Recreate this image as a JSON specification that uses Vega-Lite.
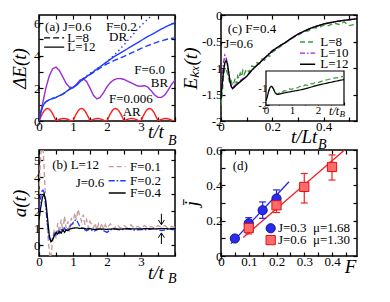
{
"$schema":"https://vega.github.io/schema/vega-lite/v6.json",
"padding":{"left":9,"top":8,"right":5,"bottom":5},
"background":"white",
"config":{
 "font":"Liberation Serif",
 "view":{"stroke":"black","strokeWidth":1.5},
 "axis":{"grid":false,"domain":false,"minExtent":0,"maxExtent":200,"tickSize":-4,"tickColor":"black","tickWidth":1.2,"labelFontSize":13,"labelColor":"black","labelPadding":3,"labelFlush":false,"labelOverlap":false,"labelBound":false,"titleFontSize":19,"titleFontWeight":"normal","titleFontStyle":"italic","titleColor":"black","titlePadding":4},
 "text":{"fontSize":13,"color":"black","baseline":"middle","align":"left"},
 "line":{"strokeWidth":1.4}
},
"bounds":"flush",
"columns":2,
"spacing":{"row":29,"column":46},
"resolve":{"scale":{"color":"independent","strokeDash":"independent","shape":"independent","fill":"independent","stroke":"independent"}},
"concat":[
{
 "width":136,"height":106,
 "layer":[
  {"data":{"name":"aLines"},"mark":{"type":"line","clip":true},
   "encoding":{
    "x":{"field":"t","type":"quantitative","scale":{"domain":[0,4],"nice":false},"axis":{"orient":"bottom","title":null,"values":[0,0.5,1,1.5,2,2.5,3,3.5,4],"labelExpr":"datum.value % 1 === 0 && datum.value < 4 ? toString(datum.value) : ''"}},
    "y":{"field":"v","type":"quantitative","scale":{"domain":[0,6.5],"nice":false,"zero":false},"axis":{"orient":"left","title":"ΔE(t)","values":[0,1,2,3,4,5,6],"labelExpr":"datum.value % 2 === 0 ? toString(datum.value) : ''"}},
    "color":{"field":"s","type":"nominal","scale":{"domain":["AR","BR","DRd","DR8","DR12","k8","k12"],"range":["#ff1a1a","#9a2bd0","#1f3fff","#1f3fff","#1f3fff","#000000","#000000"]},"legend":null},
    "strokeDash":{"field":"s","type":"nominal","scale":{"domain":["AR","BR","DRd","DR8","DR12","k8","k12"],"range":[[1,0],[1,0],[1.5,3],[6,3],[1,0],[6,3],[1,0]]},"legend":null}
   }},
  {"data":{"name":"aText"},"mark":{"type":"text"},
   "encoding":{
    "x":{"field":"t","type":"quantitative","scale":{"domain":[0,4],"nice":false},"axis":{"orient":"top","labels":false,"title":null,"values":[0,0.5,1,1.5,2,2.5,3,3.5,4]}},
    "y":{"field":"v","type":"quantitative","scale":{"domain":[0,6.5],"nice":false,"zero":false},"axis":{"orient":"right","labels":false,"title":null,"values":[0,1,2,3,4,5,6]}},
    "text":{"field":"label"}}},
  {"data":{"values":[{"t":3.44,"v":-0.68,"label":"t/t"}]},"mark":{"type":"text","align":"center","fontSize":19,"fontStyle":"italic"},
   "encoding":{"x":{"field":"t","type":"quantitative","scale":{"domain":[0,4],"nice":false},"axis":null},"y":{"field":"v","type":"quantitative","scale":{"domain":[0,6.5],"nice":false,"zero":false},"axis":null},"text":{"field":"label"}}},
  {"data":{"values":[{"t":3.92,"v":-1.2,"label":"B"}]},"mark":{"type":"text","align":"center","fontSize":14,"fontStyle":"italic"},
   "encoding":{"x":{"field":"t","type":"quantitative","scale":{"domain":[0,4],"nice":false},"axis":null},"y":{"field":"v","type":"quantitative","scale":{"domain":[0,6.5],"nice":false,"zero":false},"axis":null},"text":{"field":"label"}}}
 ],
 "resolve":{"axis":{"x":"independent","y":"independent"}}
},
{
 "width":136,"height":106,
 "layer":[
  {"data":{"name":"cLines"},"mark":{"type":"line","clip":true},
   "encoding":{
    "x":{"field":"t","type":"quantitative","scale":{"domain":[0,0.53],"nice":false},"axis":{"orient":"bottom","title":null,"values":[0,0.1,0.2,0.3,0.4,0.5],"labelExpr":"round(datum.value*10) % 2 === 0 ? toString(datum.value) : ''"}},
    "y":{"field":"v","type":"quantitative","scale":{"domain":[-2,0],"nice":false,"zero":false},"axis":{"orient":"left","title":"Eₖₓ(t)","titlePadding":1,"values":[-2,-1.5,-1,-0.5,0],"labelExpr":"toString(datum.value)"}},
    "color":{"field":"s","type":"nominal","scale":{"domain":["L8","L10","L12","k8","k10","k12"],"range":["#3a9a3a","#a020e0","#000000","#3a9a3a","#a020e0","#000000"]},"legend":null},
    "strokeDash":{"field":"s","type":"nominal","scale":{"domain":["L8","L10","L12","k8","k10","k12"],"range":[[5,3],[5,2,1.5,2],[1,0],[5,3],[5,2,1.5,2],[1,0]]},"legend":null}
   }},
  {"data":{"name":"cText"},"mark":{"type":"text"},
   "encoding":{
    "x":{"field":"t","type":"quantitative","scale":{"domain":[0,0.53],"nice":false},"axis":{"orient":"top","labels":false,"title":null,"values":[0,0.1,0.2,0.3,0.4,0.5]}},
    "y":{"field":"v","type":"quantitative","scale":{"domain":[-2,0],"nice":false,"zero":false},"axis":{"orient":"right","labels":false,"title":null,"values":[-2,-1.5,-1,-0.5,0]}},
    "text":{"field":"label"}}},
  {"data":{"values":[{"t":0.324,"v":-2.3,"label":"t/Lt"}]},"mark":{"type":"text","align":"center","fontSize":19,"fontStyle":"italic"},
   "encoding":{"x":{"field":"t","type":"quantitative","scale":{"domain":[0,0.53],"nice":false},"axis":null},"y":{"field":"v","type":"quantitative","scale":{"domain":[-2,0],"nice":false,"zero":false},"axis":null},"text":{"field":"label"}}},
  {"data":{"values":[{"t":0.395,"v":-2.45,"label":"B"}]},"mark":{"type":"text","align":"center","fontSize":14,"fontStyle":"italic"},
   "encoding":{"x":{"field":"t","type":"quantitative","scale":{"domain":[0,0.53],"nice":false},"axis":null},"y":{"field":"v","type":"quantitative","scale":{"domain":[-2,0],"nice":false,"zero":false},"axis":null},"text":{"field":"label"}}},
  {"data":{"values":[{"x0":0,"x1":3,"y0":-2,"y1":0}]},"mark":{"type":"rect","fill":"white","stroke":"black","strokeWidth":1.2},
   "encoding":{"x":{"field":"x0","type":"quantitative","scale":{"domain":[0,3],"range":[45,123],"nice":false},"axis":null},"x2":{"field":"x1"},
    "y":{"field":"y0","type":"quantitative","scale":{"domain":[-2,0],"range":[90,56],"nice":false,"zero":false},"axis":null},"y2":{"field":"y1"}}},
  {"data":{"name":"cInset"},"mark":{"type":"line","clip":false,"strokeWidth":1.2},
   "encoding":{
    "x":{"field":"t","type":"quantitative","scale":{"domain":[0,3],"range":[45,123],"nice":false},"axis":{"orient":"bottom","offset":-16,"title":null,"tickSize":-3,"labelFontSize":11,"labelPadding":2,"values":[0,0.5,1,1.5,2,2.5,3],"labelExpr":"datum.value % 1 === 0 && datum.value < 3 ? toString(datum.value) : ''"}},
    "y":{"field":"v","type":"quantitative","scale":{"domain":[-2,0],"range":[90,56],"nice":false,"zero":false},"axis":{"orient":"left","offset":-45,"title":null,"tickSize":-3,"labelFontSize":11,"labelPadding":2,"values":[-2,-1.5,-1,-0.5],"labelExpr":"datum.value % 1 === 0 ? toString(datum.value) : ''"}},
    "color":{"field":"s","type":"nominal","scale":{"domain":["i8","i12"],"range":["#3a9a3a","#000000"]},"legend":null},
    "strokeDash":{"field":"s","type":"nominal","scale":{"domain":["i8","i12"],"range":[[5,3],[1,0]]},"legend":null}
   }},
  {"data":{"values":[{"t":2.62,"v":-2.36,"label":"t/t"}]},"mark":{"type":"text","align":"center","fontSize":12,"fontStyle":"italic"},
   "encoding":{"x":{"field":"t","type":"quantitative","scale":{"domain":[0,3],"range":[45,123],"nice":false},"axis":null},"y":{"field":"v","type":"quantitative","scale":{"domain":[-2,0],"range":[90,56],"nice":false,"zero":false},"axis":null},"text":{"field":"label"}}},
  {"data":{"values":[{"t":2.93,"v":-2.55,"label":"B"}]},"mark":{"type":"text","align":"center","fontSize":9,"fontStyle":"italic"},
   "encoding":{"x":{"field":"t","type":"quantitative","scale":{"domain":[0,3],"range":[45,123],"nice":false},"axis":null},"y":{"field":"v","type":"quantitative","scale":{"domain":[-2,0],"range":[90,56],"nice":false,"zero":false},"axis":null},"text":{"field":"label"}}}
 ],
 "resolve":{"scale":{"x":"independent","y":"independent","color":"independent","strokeDash":"independent"},"axis":{"x":"independent","y":"independent"}}
},
{
 "width":136,"height":106,
 "layer":[
  {"data":{"name":"bLines"},"mark":{"type":"line","clip":true,"strokeWidth":1.3},
   "encoding":{
    "x":{"field":"t","type":"quantitative","scale":{"domain":[0,4],"nice":false},"axis":{"orient":"bottom","title":null,"values":[0,0.5,1,1.5,2,2.5,3,3.5,4],"labelExpr":"datum.value % 1 === 0 && datum.value < 4 ? toString(datum.value) : ''"}},
    "y":{"field":"v","type":"quantitative","scale":{"domain":[-0.64,5.6],"nice":false,"zero":false},"axis":{"orient":"left","title":"a(t)","values":[0,1,2,3,4,5],"labelExpr":"toString(datum.value)"}},
    "color":{"field":"s","type":"nominal","scale":{"domain":["F0.1","F0.2","F0.4","k1","k2","k4"],"range":["#c49a9a","#1a3cff","#000000","#c49a9a","#1a3cff","#000000"]},"legend":null},
    "strokeDash":{"field":"s","type":"nominal","scale":{"domain":["F0.1","F0.2","F0.4","k1","k2","k4"],"range":[[5,3],[6,2,1.5,2],[1,0],[5,3],[6,2,1.5,2],[1,0]]},"legend":null}
   }},
  {"data":{"values":[{"t":3.6,"a":1.85,"b":1.22},{"t":3.6,"a":0.06,"b":0.7}]},"mark":{"type":"rule","color":"black","strokeWidth":1},
   "encoding":{"x":{"field":"t","type":"quantitative","scale":{"domain":[0,4],"nice":false},"axis":null},"y":{"field":"a","type":"quantitative","scale":{"domain":[-0.64,5.6],"nice":false,"zero":false},"axis":null},"y2":{"field":"b"}}},
  {"data":{"values":[{"t":3.6,"v":1.2}]},"mark":{"type":"point","shape":"M-1,-1.6L0,0L1,-1.6","filled":false,"color":"black","strokeWidth":1,"size":36,"opacity":1},
   "encoding":{"x":{"field":"t","type":"quantitative","scale":{"domain":[0,4],"nice":false},"axis":null},"y":{"field":"v","type":"quantitative","scale":{"domain":[-0.64,5.6],"nice":false,"zero":false},"axis":null}}},
  {"data":{"values":[{"t":3.6,"v":0.72}]},"mark":{"type":"point","shape":"M-1,1.6L0,0L1,1.6","filled":false,"color":"black","strokeWidth":1,"size":36,"opacity":1},
   "encoding":{"x":{"field":"t","type":"quantitative","scale":{"domain":[0,4],"nice":false},"axis":null},"y":{"field":"v","type":"quantitative","scale":{"domain":[-0.64,5.6],"nice":false,"zero":false},"axis":null}}},
  {"data":{"name":"bText"},"mark":{"type":"text"},
   "encoding":{
    "x":{"field":"t","type":"quantitative","scale":{"domain":[0,4],"nice":false},"axis":{"orient":"top","labels":false,"title":null,"values":[0,0.5,1,1.5,2,2.5,3,3.5,4]}},
    "y":{"field":"v","type":"quantitative","scale":{"domain":[-0.64,5.6],"nice":false,"zero":false},"axis":{"orient":"right","labels":false,"title":null,"values":[0,1,2,3,4,5]}},
    "text":{"field":"label"}}},
  {"data":{"values":[{"t":3.44,"v":-1.63,"label":"t/t"}]},"mark":{"type":"text","align":"center","fontSize":19,"fontStyle":"italic"},
   "encoding":{"x":{"field":"t","type":"quantitative","scale":{"domain":[0,4],"nice":false},"axis":null},"y":{"field":"v","type":"quantitative","scale":{"domain":[-0.64,5.6],"nice":false,"zero":false},"axis":null},"text":{"field":"label"}}},
  {"data":{"values":[{"t":3.92,"v":-2.0,"label":"B"}]},"mark":{"type":"text","align":"center","fontSize":14,"fontStyle":"italic"},
   "encoding":{"x":{"field":"t","type":"quantitative","scale":{"domain":[0,4],"nice":false},"axis":null},"y":{"field":"v","type":"quantitative","scale":{"domain":[-0.64,5.6],"nice":false,"zero":false},"axis":null},"text":{"field":"label"}}}
 ],
 "resolve":{"axis":{"x":"independent","y":"independent"}}
},
{
 "width":136,"height":106,
 "layer":[
  {"data":{"name":"dFit"},"mark":{"type":"line","clip":true,"strokeWidth":1.3},
   "encoding":{
    "x":{"field":"F","type":"quantitative","scale":{"domain":[0,0.49],"nice":false},"axis":{"orient":"bottom","title":null,"values":[0,0.05,0.1,0.15,0.2,0.25,0.3,0.35,0.4,0.45],"labelExpr":"round(datum.value*100) % 10 === 0 ? toString(datum.value) : ''"}},
    "y":{"field":"j","type":"quantitative","scale":{"domain":[0,0.6],"nice":false,"zero":false},"axis":{"orient":"left","title":"j̄","values":[0,0.1,0.2,0.3,0.4,0.5,0.6],"labelExpr":"round(datum.value*10) % 2 === 0 ? toString(datum.value) : ''"}},
    "color":{"field":"J","type":"nominal","scale":{"domain":["J0.3","J0.6"],"range":["#2424f0","#f02020"]},"legend":null}
   }},
  {"data":{"name":"dPts"},"mark":{"type":"rule","strokeWidth":1.2},
   "encoding":{"x":{"field":"F","type":"quantitative","scale":{"domain":[0,0.49],"nice":false},"axis":null},"y":{"field":"lo","type":"quantitative","scale":{"domain":[0,0.6],"nice":false,"zero":false},"axis":null},"y2":{"field":"hi"},
    "color":{"field":"J","type":"nominal","scale":{"domain":["J0.3","J0.6"],"range":["#2424f0","#f02020"]},"legend":null}}},
  {"data":{"name":"dPts"},"mark":{"type":"tick","orient":"horizontal","size":7,"thickness":1.2,"opacity":1},
   "encoding":{"x":{"field":"F","type":"quantitative","scale":{"domain":[0,0.49],"nice":false},"axis":null},"y":{"field":"lo","type":"quantitative","scale":{"domain":[0,0.6],"nice":false,"zero":false},"axis":null},
    "color":{"field":"J","type":"nominal","scale":{"domain":["J0.3","J0.6"],"range":["#2424f0","#f02020"]},"legend":null}}},
  {"data":{"name":"dPts"},"mark":{"type":"tick","orient":"horizontal","size":7,"thickness":1.2,"opacity":1},
   "encoding":{"x":{"field":"F","type":"quantitative","scale":{"domain":[0,0.49],"nice":false},"axis":null},"y":{"field":"hi","type":"quantitative","scale":{"domain":[0,0.6],"nice":false,"zero":false},"axis":null},
    "color":{"field":"J","type":"nominal","scale":{"domain":["J0.3","J0.6"],"range":["#2424f0","#f02020"]},"legend":null}}},
  {"data":{"name":"dMarks"},"mark":{"type":"point","filled":true,"size":85,"strokeWidth":1,"opacity":1},
   "encoding":{"x":{"field":"F","type":"quantitative","scale":{"domain":[0,0.49],"nice":false},"axis":null},"y":{"field":"j","type":"quantitative","scale":{"domain":[0,0.6],"nice":false,"zero":false},"axis":null},
    "shape":{"field":"J","type":"nominal","scale":{"domain":["J0.3","J0.6"],"range":["circle","square"]},"legend":null},
    "fill":{"field":"J","type":"nominal","scale":{"domain":["J0.3","J0.6"],"range":["#2a2af2","#ff6a6a"]},"legend":null},
    "stroke":{"field":"J","type":"nominal","scale":{"domain":["J0.3","J0.6"],"range":["#14148c","#e01010"]},"legend":null}}},
  {"data":{"name":"dText"},"mark":{"type":"text"},
   "encoding":{
    "x":{"field":"F","type":"quantitative","scale":{"domain":[0,0.49],"nice":false},"axis":{"orient":"top","labels":false,"title":null,"values":[0,0.05,0.1,0.15,0.2,0.25,0.3,0.35,0.4,0.45]}},
    "y":{"field":"j","type":"quantitative","scale":{"domain":[0,0.6],"nice":false,"zero":false},"axis":{"orient":"right","labels":false,"title":null,"values":[0,0.1,0.2,0.3,0.4,0.5,0.6]}},
    "text":{"field":"label"}}},
  {"data":{"values":[{"F":0.467,"j":-0.06,"label":"F"}]},"mark":{"type":"text","align":"center","fontSize":19,"fontStyle":"italic"},
   "encoding":{"x":{"field":"F","type":"quantitative","scale":{"domain":[0,0.49],"nice":false},"axis":null},"y":{"field":"j","type":"quantitative","scale":{"domain":[0,0.6],"nice":false,"zero":false},"axis":null},"text":{"field":"label"}}}
 ],
 "resolve":{"axis":{"x":"independent","y":"independent"}}
}
],
"datasets":{
"aLines":[
{"s":"AR","t":0,"v":0},{"s":"AR","t":0.05,"v":0.24},{"s":"AR","t":0.1,"v":0.45},{"s":"AR","t":0.15,"v":0.62},{"s":"AR","t":0.2,"v":0.73},{"s":"AR","t":0.25,"v":0.77},{"s":"AR","t":0.3,"v":0.73},{"s":"AR","t":0.35,"v":0.62},{"s":"AR","t":0.4,"v":0.45},{"s":"AR","t":0.45,"v":0.24},{"s":"AR","t":0.5,"v":0.02},{"s":"AR","t":0.55,"v":0.05},{"s":"AR","t":0.6,"v":0.1},{"s":"AR","t":0.65,"v":0.13},{"s":"AR","t":0.7,"v":0.15},{"s":"AR","t":0.75,"v":0.15},{"s":"AR","t":0.8,"v":0.13},{"s":"AR","t":0.85,"v":0.1},{"s":"AR","t":0.9,"v":0.05},{"s":"AR","t":0.95,"v":0.01},
{"s":"AR","t":1,"v":0},{"s":"AR","t":1.05,"v":0.24},{"s":"AR","t":1.1,"v":0.45},{"s":"AR","t":1.15,"v":0.62},{"s":"AR","t":1.2,"v":0.73},{"s":"AR","t":1.25,"v":0.77},{"s":"AR","t":1.3,"v":0.73},{"s":"AR","t":1.35,"v":0.62},{"s":"AR","t":1.4,"v":0.45},{"s":"AR","t":1.45,"v":0.24},{"s":"AR","t":1.5,"v":0.02},{"s":"AR","t":1.55,"v":0.05},{"s":"AR","t":1.6,"v":0.1},{"s":"AR","t":1.65,"v":0.13},{"s":"AR","t":1.7,"v":0.15},{"s":"AR","t":1.75,"v":0.15},{"s":"AR","t":1.8,"v":0.13},{"s":"AR","t":1.85,"v":0.1},{"s":"AR","t":1.9,"v":0.05},{"s":"AR","t":1.95,"v":0.01},
{"s":"AR","t":2,"v":0},{"s":"AR","t":2.05,"v":0.24},{"s":"AR","t":2.1,"v":0.45},{"s":"AR","t":2.15,"v":0.62},{"s":"AR","t":2.2,"v":0.73},{"s":"AR","t":2.25,"v":0.77},{"s":"AR","t":2.3,"v":0.73},{"s":"AR","t":2.35,"v":0.62},{"s":"AR","t":2.4,"v":0.45},{"s":"AR","t":2.45,"v":0.24},{"s":"AR","t":2.5,"v":0.02},{"s":"AR","t":2.55,"v":0.05},{"s":"AR","t":2.6,"v":0.1},{"s":"AR","t":2.65,"v":0.13},{"s":"AR","t":2.7,"v":0.15},{"s":"AR","t":2.75,"v":0.15},{"s":"AR","t":2.8,"v":0.13},{"s":"AR","t":2.85,"v":0.1},{"s":"AR","t":2.9,"v":0.05},{"s":"AR","t":2.95,"v":0.01},
{"s":"AR","t":3,"v":0},{"s":"AR","t":3.05,"v":0.24},{"s":"AR","t":3.1,"v":0.45},{"s":"AR","t":3.15,"v":0.62},{"s":"AR","t":3.2,"v":0.73},{"s":"AR","t":3.25,"v":0.77},{"s":"AR","t":3.3,"v":0.73},{"s":"AR","t":3.35,"v":0.62},{"s":"AR","t":3.4,"v":0.45},{"s":"AR","t":3.45,"v":0.24},{"s":"AR","t":3.5,"v":0.02},{"s":"AR","t":3.55,"v":0.05},{"s":"AR","t":3.6,"v":0.1},{"s":"AR","t":3.65,"v":0.13},{"s":"AR","t":3.7,"v":0.15},{"s":"AR","t":3.75,"v":0.15},{"s":"AR","t":3.8,"v":0.13},{"s":"AR","t":3.85,"v":0.1},{"s":"AR","t":3.9,"v":0.05},{"s":"AR","t":3.95,"v":0.01},{"s":"AR","t":4,"v":0},
{"s":"BR","t":0,"v":0},{"s":"BR","t":0.1,"v":1.0},{"s":"BR","t":0.2,"v":2.0},{"s":"BR","t":0.3,"v":2.75},{"s":"BR","t":0.4,"v":3.2},{"s":"BR","t":0.5,"v":3.3},{"s":"BR","t":0.6,"v":3.1},{"s":"BR","t":0.7,"v":2.7},{"s":"BR","t":0.8,"v":2.3},{"s":"BR","t":0.9,"v":2.07},{"s":"BR","t":1.0,"v":2.05},{"s":"BR","t":1.1,"v":2.25},{"s":"BR","t":1.2,"v":2.5},{"s":"BR","t":1.3,"v":2.6},{"s":"BR","t":1.4,"v":2.42},{"s":"BR","t":1.5,"v":2.02},{"s":"BR","t":1.6,"v":1.58},{"s":"BR","t":1.7,"v":1.36},{"s":"BR","t":1.8,"v":1.45},{"s":"BR","t":1.9,"v":1.75},{"s":"BR","t":2.0,"v":2.1},{"s":"BR","t":2.1,"v":2.36},{"s":"BR","t":2.2,"v":2.52},{"s":"BR","t":2.3,"v":2.6},{"s":"BR","t":2.4,"v":2.6},{"s":"BR","t":2.5,"v":2.55},{"s":"BR","t":2.6,"v":2.45},{"s":"BR","t":2.7,"v":2.35},{"s":"BR","t":2.8,"v":2.25},{"s":"BR","t":2.9,"v":2.15},{"s":"BR","t":3.0,"v":2.13},{"s":"BR","t":3.1,"v":2.17},{"s":"BR","t":3.2,"v":2.08},{"s":"BR","t":3.3,"v":1.85},{"s":"BR","t":3.4,"v":1.6},{"s":"BR","t":3.5,"v":1.45},{"s":"BR","t":3.6,"v":1.45},{"s":"BR","t":3.7,"v":1.6},{"s":"BR","t":3.8,"v":1.9},{"s":"BR","t":3.9,"v":2.25},{"s":"BR","t":4.0,"v":2.5},
{"s":"DRd","t":1.0,"v":2.05},{"s":"DRd","t":1.1,"v":2.2},{"s":"DRd","t":1.2,"v":2.4},{"s":"DRd","t":1.3,"v":2.6},{"s":"DRd","t":1.4,"v":2.76},{"s":"DRd","t":1.5,"v":2.92},{"s":"DRd","t":1.7,"v":3.2},{"s":"DRd","t":1.9,"v":3.47},{"s":"DRd","t":2.1,"v":3.82},{"s":"DRd","t":2.3,"v":4.22},{"s":"DRd","t":2.5,"v":4.67},{"s":"DRd","t":2.7,"v":5.15},{"s":"DRd","t":2.9,"v":5.63},{"s":"DRd","t":3.1,"v":6.05},{"s":"DRd","t":3.3,"v":6.45},{"s":"DRd","t":3.5,"v":6.85},
{"s":"DR8","t":0,"v":0},{"s":"DR8","t":0.05,"v":0.5},{"s":"DR8","t":0.1,"v":0.85},{"s":"DR8","t":0.15,"v":1.05},{"s":"DR8","t":0.2,"v":1.18},{"s":"DR8","t":0.3,"v":1.3},{"s":"DR8","t":0.4,"v":1.38},{"s":"DR8","t":0.5,"v":1.45},{"s":"DR8","t":0.6,"v":1.55},{"s":"DR8","t":0.7,"v":1.65},{"s":"DR8","t":0.8,"v":1.8},{"s":"DR8","t":0.9,"v":1.95},{"s":"DR8","t":1.0,"v":2.05},{"s":"DR8","t":1.1,"v":2.2},{"s":"DR8","t":1.2,"v":2.38},{"s":"DR8","t":1.3,"v":2.55},{"s":"DR8","t":1.4,"v":2.7},{"s":"DR8","t":1.5,"v":2.84},{"s":"DR8","t":1.6,"v":2.98},{"s":"DR8","t":1.8,"v":3.25},{"s":"DR8","t":2.0,"v":3.5},{"s":"DR8","t":2.2,"v":3.7},{"s":"DR8","t":2.4,"v":3.87},{"s":"DR8","t":2.6,"v":4.05},{"s":"DR8","t":2.8,"v":4.25},{"s":"DR8","t":3.0,"v":4.45},{"s":"DR8","t":3.2,"v":4.62},{"s":"DR8","t":3.4,"v":4.78},{"s":"DR8","t":3.6,"v":4.92},{"s":"DR8","t":3.8,"v":5.03},{"s":"DR8","t":4.0,"v":5.1},
{"s":"DR12","t":0,"v":0},{"s":"DR12","t":0.05,"v":0.5},{"s":"DR12","t":0.1,"v":0.85},{"s":"DR12","t":0.15,"v":1.05},{"s":"DR12","t":0.2,"v":1.18},{"s":"DR12","t":0.3,"v":1.3},{"s":"DR12","t":0.4,"v":1.38},{"s":"DR12","t":0.5,"v":1.45},{"s":"DR12","t":0.6,"v":1.55},{"s":"DR12","t":0.7,"v":1.65},{"s":"DR12","t":0.8,"v":1.8},{"s":"DR12","t":0.9,"v":1.95},{"s":"DR12","t":1.0,"v":2.05},{"s":"DR12","t":1.1,"v":2.2},{"s":"DR12","t":1.2,"v":2.4},{"s":"DR12","t":1.3,"v":2.58},{"s":"DR12","t":1.4,"v":2.72},{"s":"DR12","t":1.5,"v":2.87},{"s":"DR12","t":1.6,"v":3.02},{"s":"DR12","t":1.8,"v":3.33},{"s":"DR12","t":2.0,"v":3.63},{"s":"DR12","t":2.2,"v":3.93},{"s":"DR12","t":2.4,"v":4.18},{"s":"DR12","t":2.6,"v":4.43},{"s":"DR12","t":2.8,"v":4.68},{"s":"DR12","t":3.0,"v":4.93},{"s":"DR12","t":3.2,"v":5.18},{"s":"DR12","t":3.4,"v":5.4},{"s":"DR12","t":3.6,"v":5.64},{"s":"DR12","t":3.8,"v":5.85},{"s":"DR12","t":4.0,"v":6.02},
{"s":"k8","t":0.15,"v":5.1},{"s":"k8","t":0.74,"v":5.1},
{"s":"k12","t":0.15,"v":4.53},{"s":"k12","t":0.74,"v":4.53}
],
"aText":[
{"t":0.18,"v":5.78,"label":"(a) J=0.6"},{"t":0.83,"v":5.1,"label":"L=8"},{"t":0.83,"v":4.53,"label":"L=12"},{"t":1.97,"v":5.78,"label":"F=0.2"},{"t":2.06,"v":5.16,"label":"DR"},{"t":2.8,"v":3.15,"label":"F=6.0"},{"t":3.29,"v":2.32,"label":"BR"},{"t":2.06,"v":1.33,"label":"F=0.006"},{"t":2.46,"v":0.56,"label":"AR"}
],
"bLines":[
{"s":"F0.1","t":0,"v":3.0},{"s":"F0.1","t":0.03,"v":4.5},{"s":"F0.1","t":0.06,"v":5.5},{"s":"F0.1","t":0.09,"v":6.0},{"s":"F0.1","t":0.12,"v":5.8},{"s":"F0.1","t":0.15,"v":4.5},{"s":"F0.1","t":0.2,"v":2.5},{"s":"F0.1","t":0.25,"v":0.8},{"s":"F0.1","t":0.3,"v":-0.3},{"s":"F0.1","t":0.33,"v":-0.8},{"s":"F0.1","t":0.36,"v":-0.5},{"s":"F0.1","t":0.4,"v":0.3},{"s":"F0.1","t":0.45,"v":0.9},{"s":"F0.1","t":0.5,"v":0.4},{"s":"F0.1","t":0.55,"v":1.3},{"s":"F0.1","t":0.6,"v":0.7},{"s":"F0.1","t":0.65,"v":1.5},{"s":"F0.1","t":0.7,"v":0.8},{"s":"F0.1","t":0.75,"v":1.7},{"s":"F0.1","t":0.8,"v":1.0},{"s":"F0.1","t":0.85,"v":1.4},{"s":"F0.1","t":0.9,"v":0.8},{"s":"F0.1","t":0.95,"v":1.6},{"s":"F0.1","t":1.0,"v":1.2},{"s":"F0.1","t":1.05,"v":1.9},{"s":"F0.1","t":1.1,"v":1.5},{"s":"F0.1","t":1.15,"v":2.1},{"s":"F0.1","t":1.2,"v":1.7},{"s":"F0.1","t":1.25,"v":1.4},{"s":"F0.1","t":1.3,"v":1.8},{"s":"F0.1","t":1.35,"v":1.2},{"s":"F0.1","t":1.4,"v":1.5},{"s":"F0.1","t":1.45,"v":1.0},{"s":"F0.1","t":1.5,"v":1.4},{"s":"F0.1","t":1.6,"v":1.0},{"s":"F0.1","t":1.65,"v":1.3},{"s":"F0.1","t":1.7,"v":0.9},{"s":"F0.1","t":1.75,"v":1.25},{"s":"F0.1","t":1.8,"v":1.0},{"s":"F0.1","t":1.85,"v":1.3},{"s":"F0.1","t":1.9,"v":0.9},{"s":"F0.1","t":1.95,"v":1.2},{"s":"F0.1","t":2.0,"v":1.0},{"s":"F0.1","t":2.1,"v":1.25},{"s":"F0.1","t":2.2,"v":0.95},{"s":"F0.1","t":2.3,"v":1.2},{"s":"F0.1","t":2.4,"v":1.0},{"s":"F0.1","t":2.5,"v":1.15},{"s":"F0.1","t":2.6,"v":1.0},{"s":"F0.1","t":2.7,"v":1.2},{"s":"F0.1","t":2.8,"v":1.0},{"s":"F0.1","t":2.9,"v":1.1},{"s":"F0.1","t":3.0,"v":1.0},{"s":"F0.1","t":3.1,"v":1.15},{"s":"F0.1","t":3.2,"v":1.0},{"s":"F0.1","t":3.3,"v":1.1},{"s":"F0.1","t":3.4,"v":1.0},{"s":"F0.1","t":3.5,"v":1.15},{"s":"F0.1","t":3.6,"v":1.05},{"s":"F0.1","t":3.7,"v":1.15},{"s":"F0.1","t":3.8,"v":1.0},{"s":"F0.1","t":3.9,"v":1.1},{"s":"F0.1","t":4.0,"v":1.05},
{"s":"F0.2","t":0,"v":2.0},{"s":"F0.2","t":0.05,"v":2.8},{"s":"F0.2","t":0.1,"v":3.3},{"s":"F0.2","t":0.15,"v":3.1},{"s":"F0.2","t":0.2,"v":2.2},{"s":"F0.2","t":0.25,"v":1.2},{"s":"F0.2","t":0.3,"v":0.4},{"s":"F0.2","t":0.35,"v":0.25},{"s":"F0.2","t":0.4,"v":0.4},{"s":"F0.2","t":0.45,"v":0.7},{"s":"F0.2","t":0.5,"v":0.6},{"s":"F0.2","t":0.55,"v":0.9},{"s":"F0.2","t":0.6,"v":0.7},{"s":"F0.2","t":0.65,"v":0.95},{"s":"F0.2","t":0.7,"v":0.8},{"s":"F0.2","t":0.75,"v":1.0},{"s":"F0.2","t":0.8,"v":0.85},{"s":"F0.2","t":0.85,"v":0.95},{"s":"F0.2","t":0.9,"v":1.1},{"s":"F0.2","t":0.95,"v":1.2},{"s":"F0.2","t":1.0,"v":1.3},{"s":"F0.2","t":1.05,"v":1.45},{"s":"F0.2","t":1.1,"v":1.5},{"s":"F0.2","t":1.15,"v":1.3},{"s":"F0.2","t":1.2,"v":1.1},{"s":"F0.2","t":1.3,"v":0.95},{"s":"F0.2","t":1.4,"v":0.85},{"s":"F0.2","t":1.5,"v":0.95},{"s":"F0.2","t":1.6,"v":0.8},{"s":"F0.2","t":1.7,"v":0.9},{"s":"F0.2","t":1.8,"v":1.0},{"s":"F0.2","t":1.9,"v":0.85},{"s":"F0.2","t":2.0,"v":0.75},{"s":"F0.2","t":2.1,"v":0.9},{"s":"F0.2","t":2.2,"v":0.95},{"s":"F0.2","t":2.4,"v":0.9},{"s":"F0.2","t":2.6,"v":0.95},{"s":"F0.2","t":2.8,"v":0.88},{"s":"F0.2","t":3.0,"v":0.92},{"s":"F0.2","t":3.2,"v":0.9},{"s":"F0.2","t":3.4,"v":1.0},{"s":"F0.2","t":3.6,"v":0.85},{"s":"F0.2","t":3.8,"v":0.95},{"s":"F0.2","t":4.0,"v":0.9},
{"s":"F0.4","t":0,"v":1.5},{"s":"F0.4","t":0.05,"v":2.2},{"s":"F0.4","t":0.1,"v":2.8},{"s":"F0.4","t":0.15,"v":3.0},{"s":"F0.4","t":0.2,"v":2.6},{"s":"F0.4","t":0.25,"v":1.6},{"s":"F0.4","t":0.3,"v":0.6},{"s":"F0.4","t":0.35,"v":0.2},{"s":"F0.4","t":0.4,"v":0.3},{"s":"F0.4","t":0.45,"v":0.55},{"s":"F0.4","t":0.5,"v":0.75},{"s":"F0.4","t":0.55,"v":0.65},{"s":"F0.4","t":0.6,"v":0.8},{"s":"F0.4","t":0.65,"v":0.7},{"s":"F0.4","t":0.7,"v":0.9},{"s":"F0.4","t":0.75,"v":0.75},{"s":"F0.4","t":0.8,"v":0.9},{"s":"F0.4","t":0.85,"v":0.85},{"s":"F0.4","t":0.9,"v":0.95},{"s":"F0.4","t":1.0,"v":1.0},{"s":"F0.4","t":1.1,"v":1.02},{"s":"F0.4","t":1.2,"v":0.98},{"s":"F0.4","t":1.3,"v":1.0},{"s":"F0.4","t":1.4,"v":0.95},{"s":"F0.4","t":1.5,"v":0.98},{"s":"F0.4","t":1.6,"v":0.92},{"s":"F0.4","t":1.8,"v":0.95},{"s":"F0.4","t":2.0,"v":0.93},{"s":"F0.4","t":2.2,"v":0.96},{"s":"F0.4","t":2.4,"v":0.94},{"s":"F0.4","t":2.6,"v":0.97},{"s":"F0.4","t":2.8,"v":0.95},{"s":"F0.4","t":3.0,"v":0.96},{"s":"F0.4","t":3.2,"v":0.97},{"s":"F0.4","t":3.4,"v":0.95},{"s":"F0.4","t":3.6,"v":0.98},{"s":"F0.4","t":3.8,"v":0.96},{"s":"F0.4","t":4.0,"v":0.97},
{"s":"k1","t":2.05,"v":4.62},{"s":"k1","t":2.55,"v":4.62},
{"s":"k2","t":2.05,"v":3.79},{"s":"k2","t":2.55,"v":3.79},
{"s":"k4","t":2.05,"v":3.07},{"s":"k4","t":2.55,"v":3.07}
],
"bText":[
{"t":0.39,"v":4.72,"label":"(b) L=12"},{"t":1.08,"v":3.67,"label":"J=0.6"},{"t":2.68,"v":4.62,"label":"F=0.1"},{"t":2.68,"v":3.79,"label":"F=0.2"},{"t":2.68,"v":3.07,"label":"F=0.4"}
],
"cLines":[
{"s":"L8","t":0,"v":-1.7},{"s":"L8","t":0.005,"v":-1.45},{"s":"L8","t":0.01,"v":-1.15},{"s":"L8","t":0.015,"v":-1.0},{"s":"L8","t":0.02,"v":-1.02},{"s":"L8","t":0.025,"v":-1.1},{"s":"L8","t":0.03,"v":-1.2},{"s":"L8","t":0.035,"v":-1.3},{"s":"L8","t":0.04,"v":-1.25},{"s":"L8","t":0.045,"v":-1.33},{"s":"L8","t":0.05,"v":-1.28},{"s":"L8","t":0.055,"v":-1.2},{"s":"L8","t":0.06,"v":-1.3},{"s":"L8","t":0.065,"v":-1.15},{"s":"L8","t":0.07,"v":-1.2},{"s":"L8","t":0.075,"v":-1.1},{"s":"L8","t":0.08,"v":-1.16},{"s":"L8","t":0.085,"v":-1.05},{"s":"L8","t":0.09,"v":-1.12},{"s":"L8","t":0.1,"v":-1.02},{"s":"L8","t":0.11,"v":-1.08},{"s":"L8","t":0.12,"v":-0.96},{"s":"L8","t":0.13,"v":-0.98},{"s":"L8","t":0.14,"v":-0.9},{"s":"L8","t":0.15,"v":-0.92},{"s":"L8","t":0.16,"v":-0.83},{"s":"L8","t":0.17,"v":-0.85},{"s":"L8","t":0.18,"v":-0.76},{"s":"L8","t":0.19,"v":-0.78},{"s":"L8","t":0.2,"v":-0.7},{"s":"L8","t":0.22,"v":-0.64},{"s":"L8","t":0.24,"v":-0.56},{"s":"L8","t":0.26,"v":-0.5},{"s":"L8","t":0.28,"v":-0.43},{"s":"L8","t":0.3,"v":-0.38},{"s":"L8","t":0.32,"v":-0.32},{"s":"L8","t":0.34,"v":-0.3},{"s":"L8","t":0.36,"v":-0.24},{"s":"L8","t":0.38,"v":-0.24},{"s":"L8","t":0.4,"v":-0.19},{"s":"L8","t":0.42,"v":-0.2},{"s":"L8","t":0.44,"v":-0.15},{"s":"L8","t":0.46,"v":-0.18},{"s":"L8","t":0.48,"v":-0.13},{"s":"L8","t":0.5,"v":-0.2},{"s":"L8","t":0.52,"v":-0.18},{"s":"L8","t":0.53,"v":-0.2},
{"s":"L10","t":0,"v":-1.5},{"s":"L10","t":0.005,"v":-1.2},{"s":"L10","t":0.01,"v":-0.9},{"s":"L10","t":0.015,"v":-0.76},{"s":"L10","t":0.02,"v":-0.8},{"s":"L10","t":0.025,"v":-0.95},{"s":"L10","t":0.03,"v":-1.1},{"s":"L10","t":0.035,"v":-1.25},{"s":"L10","t":0.04,"v":-1.35},{"s":"L10","t":0.045,"v":-1.38},{"s":"L10","t":0.05,"v":-1.35},{"s":"L10","t":0.06,"v":-1.3},{"s":"L10","t":0.08,"v":-1.22},{"s":"L10","t":0.1,"v":-1.15},{"s":"L10","t":0.12,"v":-1.05},{"s":"L10","t":0.15,"v":-0.9},{"s":"L10","t":0.2,"v":-0.67},{"s":"L10","t":0.25,"v":-0.52},{"s":"L10","t":0.3,"v":-0.36},{"s":"L10","t":0.35,"v":-0.25},{"s":"L10","t":0.4,"v":-0.17},{"s":"L10","t":0.45,"v":-0.12},{"s":"L10","t":0.5,"v":-0.09},{"s":"L10","t":0.53,"v":-0.07},
{"s":"L12","t":0,"v":-1.55},{"s":"L12","t":0.005,"v":-1.3},{"s":"L12","t":0.01,"v":-1.05},{"s":"L12","t":0.015,"v":-0.9},{"s":"L12","t":0.02,"v":-0.86},{"s":"L12","t":0.025,"v":-0.92},{"s":"L12","t":0.03,"v":-1.08},{"s":"L12","t":0.035,"v":-1.25},{"s":"L12","t":0.04,"v":-1.35},{"s":"L12","t":0.045,"v":-1.39},{"s":"L12","t":0.05,"v":-1.37},{"s":"L12","t":0.06,"v":-1.32},{"s":"L12","t":0.07,"v":-1.28},{"s":"L12","t":0.08,"v":-1.24},{"s":"L12","t":0.09,"v":-1.2},{"s":"L12","t":0.1,"v":-1.16},{"s":"L12","t":0.12,"v":-1.04},{"s":"L12","t":0.14,"v":-0.95},{"s":"L12","t":0.16,"v":-0.86},{"s":"L12","t":0.18,"v":-0.77},{"s":"L12","t":0.2,"v":-0.68},{"s":"L12","t":0.22,"v":-0.61},{"s":"L12","t":0.25,"v":-0.52},{"s":"L12","t":0.28,"v":-0.42},{"s":"L12","t":0.3,"v":-0.36},{"s":"L12","t":0.33,"v":-0.29},{"s":"L12","t":0.36,"v":-0.23},{"s":"L12","t":0.4,"v":-0.17},{"s":"L12","t":0.44,"v":-0.13},{"s":"L12","t":0.48,"v":-0.1},{"s":"L12","t":0.53,"v":-0.07},
{"s":"k8","t":0.308,"v":-0.51},{"s":"k8","t":0.367,"v":-0.51},
{"s":"k10","t":0.308,"v":-0.72},{"s":"k10","t":0.367,"v":-0.72},
{"s":"k12","t":0.308,"v":-0.93},{"s":"k12","t":0.367,"v":-0.93}
],
"cText":[
{"t":0.026,"v":-0.255,"label":"(c) F=0.4"},{"t":0.013,"v":-0.54,"label":"J=0.6"},{"t":0.387,"v":-0.51,"label":"L=8"},{"t":0.387,"v":-0.72,"label":"L=10"},{"t":0.387,"v":-0.93,"label":"L=12"}
],
"cInset":[
{"s":"i8","t":0,"v":-1.75},{"s":"i8","t":0.05,"v":-1.5},{"s":"i8","t":0.1,"v":-1.2},{"s":"i8","t":0.15,"v":-0.98},{"s":"i8","t":0.2,"v":-0.9},{"s":"i8","t":0.25,"v":-0.95},{"s":"i8","t":0.3,"v":-1.1},{"s":"i8","t":0.35,"v":-1.27},{"s":"i8","t":0.4,"v":-1.35},{"s":"i8","t":0.45,"v":-1.37},{"s":"i8","t":0.5,"v":-1.3},{"s":"i8","t":0.55,"v":-1.22},{"s":"i8","t":0.6,"v":-1.25},{"s":"i8","t":0.7,"v":-1.15},{"s":"i8","t":0.8,"v":-1.18},{"s":"i8","t":0.9,"v":-1.05},{"s":"i8","t":1.0,"v":-1.08},{"s":"i8","t":1.1,"v":-0.98},{"s":"i8","t":1.2,"v":-1.0},{"s":"i8","t":1.3,"v":-0.9},{"s":"i8","t":1.4,"v":-0.93},{"s":"i8","t":1.5,"v":-0.82},{"s":"i8","t":1.6,"v":-0.85},{"s":"i8","t":1.7,"v":-0.74},{"s":"i8","t":1.8,"v":-0.76},{"s":"i8","t":1.9,"v":-0.66},{"s":"i8","t":2.0,"v":-0.68},{"s":"i8","t":2.2,"v":-0.57},{"s":"i8","t":2.4,"v":-0.5},{"s":"i8","t":2.6,"v":-0.42},{"s":"i8","t":2.8,"v":-0.38},{"s":"i8","t":3.0,"v":-0.3},
{"s":"i12","t":0,"v":-1.75},{"s":"i12","t":0.05,"v":-1.5},{"s":"i12","t":0.1,"v":-1.2},{"s":"i12","t":0.15,"v":-0.98},{"s":"i12","t":0.2,"v":-0.9},{"s":"i12","t":0.25,"v":-0.95},{"s":"i12","t":0.3,"v":-1.1},{"s":"i12","t":0.35,"v":-1.27},{"s":"i12","t":0.4,"v":-1.35},{"s":"i12","t":0.45,"v":-1.38},{"s":"i12","t":0.5,"v":-1.36},{"s":"i12","t":0.6,"v":-1.32},{"s":"i12","t":0.8,"v":-1.26},{"s":"i12","t":1.0,"v":-1.2},{"s":"i12","t":1.2,"v":-1.15},{"s":"i12","t":1.5,"v":-1.05},{"s":"i12","t":2.0,"v":-0.83},{"s":"i12","t":2.5,"v":-0.66},{"s":"i12","t":3.0,"v":-0.5}
],
"dFit":[
{"J":"J0.3","F":0.036,"j":0.07},{"J":"J0.3","F":0.245,"j":0.42},{"J":"J0.6","F":0.08,"j":0.105},{"J":"J0.6","F":0.445,"j":0.6}
],
"dPts":[
{"J":"J0.3","F":0.05,"j":0.099,"lo":0.092,"hi":0.106},{"J":"J0.3","F":0.1,"j":0.185,"lo":0.16,"hi":0.217},{"J":"J0.3","F":0.15,"j":0.259,"lo":0.213,"hi":0.306},{"J":"J0.3","F":0.2,"j":0.325,"lo":0.274,"hi":0.374},
{"J":"J0.6","F":0.1,"j":0.158,"lo":0.125,"hi":0.19},{"J":"J0.6","F":0.2,"j":0.287,"lo":0.246,"hi":0.32},{"J":"J0.6","F":0.3,"j":0.391,"lo":0.3,"hi":0.467},{"J":"J0.6","F":0.4,"j":0.504,"lo":0.43,"hi":0.572}
],
"dMarks":[
{"J":"J0.3","F":0.05,"j":0.099},{"J":"J0.3","F":0.1,"j":0.185},{"J":"J0.3","F":0.15,"j":0.259},{"J":"J0.3","F":0.2,"j":0.325},
{"J":"J0.6","F":0.1,"j":0.158},{"J":"J0.6","F":0.2,"j":0.287},{"J":"J0.6","F":0.3,"j":0.391},{"J":"J0.6","F":0.4,"j":0.504},
{"J":"J0.3","F":0.179,"j":0.157},{"J":"J0.6","F":0.179,"j":0.09}
],
"dText":[
{"F":0.042,"j":0.508,"label":"(d)"},{"F":0.205,"j":0.157,"label":"J=0.3\u00a0\u00a0μ=1.68"},{"F":0.205,"j":0.09,"label":"J=0.6\u00a0\u00a0μ=1.30"}
]
}
}
